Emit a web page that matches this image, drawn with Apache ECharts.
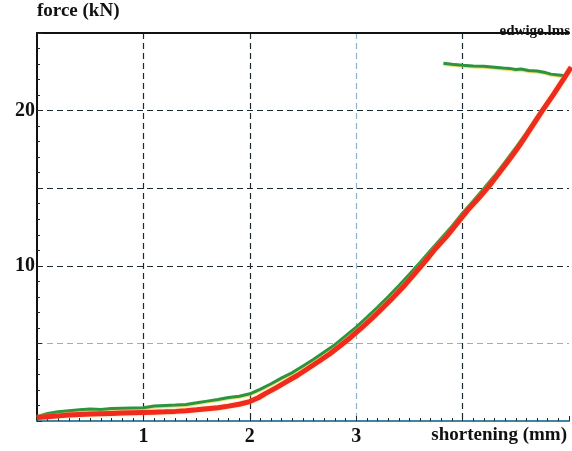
<!DOCTYPE html>
<html>
<head>
<meta charset="utf-8">
<script src="https://cdn.jsdelivr.net/npm/echarts@6/dist/echarts.min.js"></script>
<style>html,body{margin:0;padding:0;background:#fff}#c{width:572px;height:451px}</style>
</head>
<body>
<div id="c"></div>
<script>
const xTickLabels = ['', '1', '2', '3', '', ''];
const yTickLabels = ['', '', '10', '', '20', ''];
const redX = [0.00,0.10,0.20,0.30,0.40,0.50,0.60,0.70,0.80,0.90,1.00,1.10,1.20,1.30,1.40,1.50,1.60,1.70,1.80,1.90,2.00,2.08,2.15,2.25,2.35,2.45,2.55,2.65,2.75,2.85,2.95,3.05,3.15,3.25,3.35,3.45,3.55,3.65,3.75,3.85,3.95,4.05,4.15,4.25,4.35,4.45,4.55,4.65,4.75,4.85,4.95,5.02];
const redY = [0.22,0.28,0.33,0.38,0.42,0.45,0.47,0.49,0.51,0.53,0.55,0.57,0.59,0.62,0.66,0.72,0.79,0.86,0.96,1.08,1.25,1.50,1.78,2.15,2.55,2.95,3.40,3.85,4.32,4.85,5.40,6.00,6.62,7.30,7.98,8.70,9.50,10.30,11.15,11.90,12.75,13.60,14.35,15.15,16.05,16.95,17.90,18.95,20.00,21.00,22.05,22.80];
const greenX = [0.00,0.10,0.20,0.30,0.40,0.50,0.60,0.70,0.80,0.90,1.00,1.10,1.20,1.30,1.40,1.50,1.60,1.70,1.80,1.90,2.00,2.10,2.20,2.30,2.40,2.50,2.60,2.70,2.80,2.90,3.00,3.10,3.20,3.30,3.40,3.50,3.60,3.70,3.80,3.90,4.00,4.10,4.20,4.30,4.40,4.50,4.60,4.70,4.80,4.90,4.97,4.90,4.83,4.78,4.70,4.62,4.55,4.50,4.44,4.38,4.30,4.20,4.10,4.00,3.90,3.82];
const greenY = [0.28,0.48,0.60,0.66,0.72,0.78,0.74,0.80,0.82,0.84,0.86,0.97,1.00,1.03,1.07,1.17,1.28,1.38,1.52,1.60,1.75,2.05,2.40,2.78,3.12,3.55,3.98,4.45,4.92,5.48,6.05,6.68,7.33,8.00,8.72,9.45,10.22,11.00,11.78,12.55,13.40,14.18,14.98,15.80,16.70,17.62,18.56,19.60,20.58,21.58,22.25,22.30,22.35,22.45,22.55,22.58,22.68,22.65,22.72,22.75,22.80,22.85,22.88,22.92,22.98,23.05];

const redData = redX.map((x, i) => [x, redY[i]]);
const greenData = greenX.map((x, i) => [x, greenY[i]]);
const serif = 'Liberation Serif';
const dark = '#1c2a30';
const light = '#8fb3c4';

const chart = echarts.init(document.getElementById('c'), null, {renderer: 'canvas'});
chart.setOption({
  animation: false,
  backgroundColor: '#fff',
  title: {
    text: 'edwige.lms', right: -3, top: 19,
    textStyle: {fontFamily: serif, fontWeight: 'bold', fontSize: 15, color: '#111'}
  },
  grid: {left: 37, top: 33, right: 0, bottom: 30, containLabel: false},
  xAxis: [{
    type: 'value', min: 0, max: 5, interval: 1,
    name: 'shortening (mm)', nameLocation: 'end', nameGap: -2,
    nameTextStyle: {fontFamily: serif, fontWeight: 'bold', fontSize: 19, color: '#111', align: 'right', verticalAlign: 'top', padding: [5, 0, 0, 0]},
    axisLine: {show: true, onZero: false, lineStyle: {color: '#3f86a3', width: 2}},
    axisTick: {show: true, inside: true, length: 5, lineStyle: {color: dark, width: 1}},
    minorTick: {show: true, splitNumber: 10, length: 3, lineStyle: {color: dark, width: 1}},
    axisLabel: {
      margin: 6, fontFamily: serif, fontWeight: 'bold', fontSize: 20, color: '#111',
      formatter: (v) => xTickLabels[Math.round(v)] || ''
    },
    splitLine: {show: true, showMinLine: false, showMaxLine: false,
      lineStyle: {color: [dark, dark, light, dark], width: 1.2, type: [6, 4]}}
  }, {
    type: 'value', position: 'top', min: 0, max: 5,
    axisLine: {show: true, onZero: false, lineStyle: {color: '#111', width: 2}},
    axisTick: {show: false}, axisLabel: {show: false}, splitLine: {show: false}
  }],
  yAxis: {
    type: 'value', min: 0, max: 25, interval: 5,
    name: 'force (kN)', nameLocation: 'end', nameGap: 12,
    nameTextStyle: {fontFamily: serif, fontWeight: 'bold', fontSize: 19, color: '#111', align: 'left'},
    axisLine: {show: true, onZero: false, lineStyle: {color: '#111', width: 2}},
    axisTick: {show: true, inside: true, length: 5, lineStyle: {color: dark, width: 1}},
    minorTick: {show: true, splitNumber: 5, length: 3, lineStyle: {color: dark, width: 1}},
    axisLabel: {
      margin: 2, fontFamily: serif, fontWeight: 'bold', fontSize: 20, color: '#111',
      formatter: (v) => yTickLabels[Math.round(v / 5)] || ''
    },
    splitLine: {show: true, showMinLine: false, showMaxLine: false,
      lineStyle: {color: [light, dark, dark, dark], width: 1.2, type: [6, 4]}}
  },
  series: [{
    type: 'line', name: 'green', data: greenData, showSymbol: false, symbol: 'none',
    lineStyle: {color: '#2b9440', width: 3, shadowColor: 'rgba(230,210,60,0.8)', shadowBlur: 1, shadowOffsetY: 1},
    clip: true, z: 3
  }, {
    type: 'line', name: 'red', data: redData, showSymbol: false, symbol: 'none',
    lineStyle: {color: '#ef2a1e', width: 5, shadowColor: 'rgba(250,170,60,0.7)', shadowBlur: 2},
    clip: true, z: 4
  }]
});
</script>
</body>
</html>
